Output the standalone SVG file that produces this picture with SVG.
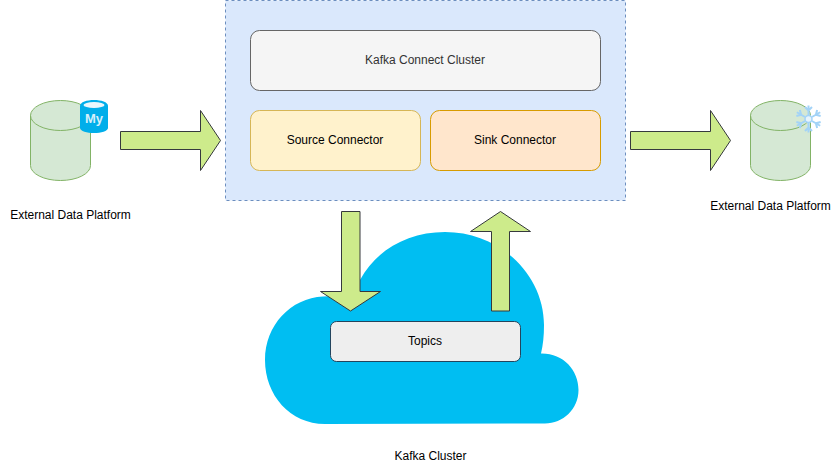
<svg xmlns="http://www.w3.org/2000/svg" width="840" height="472" viewBox="0 0 840 472">
<style>
text{font-family:"Liberation Sans",Arial,sans-serif;font-size:12px;text-anchor:middle;fill:#000}
.cyl{fill:#d5e8d4;stroke:#82b366;stroke-width:1}
.rim{fill:none;stroke:#82b366;stroke-width:1}
.arrow{fill:#cdeb8b;stroke:#36393d;stroke-width:1}
.box{stroke-width:1}
</style>
<defs>
<g id="flake-arm"><path d="M0-4V-13.500M-3.500-12L0-8.500L3.500-12" fill="none" stroke="#a3d3f7" stroke-width="2"/></g>
</defs>
<rect width="840" height="472" fill="#fff"/>
<g id="kafka-cluster">
<path d="M325 424C290 424 265 395 265 360C265 325 291 298 323 296.500C336 296 348 293 360 280C376 250 408 232 445 232C500 232 544 275 544 325C544 336 543 345 541 353.500C563 353 578.500 370 578.500 390C578.500 409 563 423.500 545 423.500L325 424Z" fill="#00bef2"/>
<text x="430.500" y="460">Kafka Cluster</text>
</g>
<g id="connect-cluster">
<rect x="225.500" y="0.500" width="400" height="200" fill="#dae8fc" stroke="#6c8ebf" stroke-dasharray="3 3"/>
</g>
<g id="kafka-connect">
<rect class="box" x="250.500" y="30.500" width="350" height="60" rx="9" fill="#f5f5f5" stroke="#666"/>
<text x="425" y="64" style="fill:#333">Kafka Connect Cluster</text>
</g>
<g id="source-connector">
<rect class="box" x="250.500" y="110.500" width="170" height="60" rx="9" fill="#fff2cc" stroke="#d6b656"/>
<text x="335" y="144">Source Connector</text>
</g>
<g id="sink-connector">
<rect class="box" x="430.500" y="110.500" width="170" height="60" rx="9" fill="#ffe6cc" stroke="#d79b00"/>
<text x="515" y="144">Sink Connector</text>
</g>
<g id="topics">
<rect class="box" x="330.500" y="321.500" width="190" height="40" rx="6" fill="#eee" stroke="#23445d"/>
<text x="425" y="345">Topics</text>
</g>
<g id="source-platform">
<path class="cyl" d="M30.500 115.500A30 15 0 0 1 90.500 115.500V165.500A30 15 0 0 1 30.500 165.500Z"/>
<path class="rim" d="M30.500 115.500A30 15 0 0 0 90.500 115.500"/>
<g id="mysql-icon">
<path d="M80 106C80 102 87 100 94 100C101 100 108 102 108 106V128C108 131 101 133 94 133C87 133 80 131 80 128Z" fill="#00aeea"/>
<ellipse cx="94" cy="105" rx="10.500" ry="3" fill="#e8f7fd"/>
<text x="94" y="123" style="font-size:13px;font-weight:bold;fill:#d6f0fa">My</text>
</g>
<text x="70.500" y="219">External Data Platform</text>
</g>
<g id="sink-platform">
<path class="cyl" d="M750.500 115.500A30 15 0 0 1 810.500 115.500V165.500A30 15 0 0 1 750.500 165.500Z"/>
<path class="rim" d="M750.500 115.500A30 15 0 0 0 810.500 115.500"/>
<g id="snowflake-icon" transform="translate(808.500 119)">
<use href="#flake-arm"/>
<use href="#flake-arm" transform="rotate(60)"/>
<use href="#flake-arm" transform="rotate(120)"/>
<use href="#flake-arm" transform="rotate(180)"/>
<use href="#flake-arm" transform="rotate(240)"/>
<use href="#flake-arm" transform="rotate(300)"/>
<circle r="3.500" fill="#e8f4fc" stroke="#a3d3f7" stroke-width="1.500"/>
</g>
<text x="770.500" y="210">External Data Platform</text>
</g>
<g id="connectors">
<path class="arrow" d="M120.500 131.500H200.500V110.500L220.500 140.500L200.500 170.500V149.500H120.500Z"/>
<path class="arrow" d="M630.500 131.500H710.500V110.500L730.500 140.500L710.500 170.500V149.500H630.500Z"/>
<path class="arrow" d="M341.500 211.500H360V291.500H380.500L350.500 311L320.500 291.500H341.500Z"/>
<path class="arrow" d="M491.500 311H509.500V231.500H530.500L500.500 211.500L470.500 231.500H491.500Z"/>
</g>
</svg>
